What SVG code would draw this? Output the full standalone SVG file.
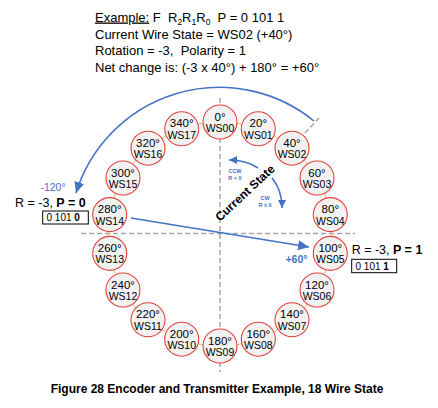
<svg xmlns="http://www.w3.org/2000/svg" width="438" height="408" viewBox="0 0 438 408">
<style>
text{font-family:"Liberation Sans",Arial,sans-serif;fill:#000}
.hdr{font-size:13px;white-space:pre}
.deg{font-size:11.5px;text-anchor:middle}
.ws{font-size:10.5px;text-anchor:middle}
.node circle{fill:#f2f2f2;stroke:#e0413c;stroke-width:1.1}
.dash{stroke:#a6a6a6;stroke-width:1.5;stroke-dasharray:5 3;fill:none}
.blue{stroke:#4472c4;fill:none}
.bt{fill:#4472c4}
.lbl{font-size:12.5px}
.small{font-size:5.5px;fill:#4472c4;font-weight:bold;text-anchor:middle}
.box{fill:#fff;stroke:#000;stroke-width:1}
.code{font-size:10px}
</style>
<defs>
<marker id="ah" markerUnits="userSpaceOnUse" markerWidth="12" markerHeight="10" refX="11" refY="5" orient="auto">
<path d="M0,0 L11,5 L0,10 Z" fill="#4472c4"/>
</marker>
<marker id="ahs" markerUnits="userSpaceOnUse" markerWidth="9" markerHeight="8" refX="8" refY="4" orient="auto">
<path d="M0,0 L8,4 L0,8 Z" fill="#4472c4"/>
</marker>
</defs>

<g id="header">
<text class="hdr" x="95" y="21.5" xml:space="preserve"><tspan text-decoration="underline">Example:</tspan> F  R<tspan font-size="8.5" dy="3">2</tspan><tspan dy="-3">R</tspan><tspan font-size="8.5" dy="3">1</tspan><tspan dy="-3">R</tspan><tspan font-size="8.5" dy="3">0</tspan><tspan dy="-3">  P = 0 101 1</tspan></text>
<text class="hdr" x="95" y="38.5">Current Wire State = WS02 (+40°)</text>
<text class="hdr" x="95" y="55" xml:space="preserve">Rotation = -3,  Polarity = 1</text>
<text class="hdr" x="95" y="71.5">Net change is: (-3 x 40°) + 180° = +60°</text>
</g>

<g id="axes">
<line class="dash" x1="220" y1="98" x2="220" y2="372"/>
<line class="dash" x1="81" y1="233.5" x2="355" y2="233.5"/>
<line class="dash" x1="305" y1="133" x2="319" y2="118"/>
</g>

<g id="ring">
<circle cx="220" cy="234" r="112" fill="none" stroke="#f4b183" stroke-width="1"/>
</g>

<g id="connectors">
<path class="blue" stroke-width="1.6" d="M314,121 A150,150 0 0 0 76,193" marker-end="url(#ah)"/>
<line class="blue" stroke-width="1.6" x1="131" y1="218" x2="309" y2="247" marker-end="url(#ah)"/>
<path class="blue" stroke-width="1.6" d="M258,168 Q246,160 229,160" marker-end="url(#ahs)"/>
<path class="blue" stroke-width="1.6" d="M272,178 Q282,190 282,208" marker-end="url(#ahs)"/>
</g>

<g id="ws00" class="node"><circle cx="220" cy="122" r="17"/><text class="deg" x="220" y="120.5">0°</text><text class="ws" x="220" y="132">WS00</text></g>
<g id="ws01" class="node"><circle cx="258.3" cy="128.8" r="17"/><text class="deg" x="258.3" y="127.3">20°</text><text class="ws" x="258.3" y="138.8">WS01</text></g>
<g id="ws02" class="node"><circle cx="292" cy="148.2" r="17"/><text class="deg" x="292" y="146.7">40°</text><text class="ws" x="292" y="158.2">WS02</text></g>
<g id="ws03" class="node"><circle cx="317" cy="178" r="17"/><text class="deg" x="317" y="176.5">60°</text><text class="ws" x="317" y="188">WS03</text></g>
<g id="ws04" class="node"><circle cx="330.3" cy="214.6" r="17"/><text class="deg" x="330.3" y="213.1">80°</text><text class="ws" x="330.3" y="224.6">WS04</text></g>
<g id="ws05" class="node"><circle cx="330.3" cy="253.4" r="17"/><text class="deg" x="330.3" y="251.9">100°</text><text class="ws" x="330.3" y="263.4">WS05</text></g>
<g id="ws06" class="node"><circle cx="317" cy="290" r="17"/><text class="deg" x="317" y="288.5">120°</text><text class="ws" x="317" y="300">WS06</text></g>
<g id="ws07" class="node"><circle cx="292" cy="319.8" r="17"/><text class="deg" x="292" y="318.3">140°</text><text class="ws" x="292" y="329.8">WS07</text></g>
<g id="ws08" class="node"><circle cx="258.3" cy="339.2" r="17"/><text class="deg" x="258.3" y="337.7">160°</text><text class="ws" x="258.3" y="349.2">WS08</text></g>
<g id="ws09" class="node"><circle cx="220" cy="346" r="17"/><text class="deg" x="220" y="344.5">180°</text><text class="ws" x="220" y="356">WS09</text></g>
<g id="ws10" class="node"><circle cx="181.7" cy="339.2" r="17"/><text class="deg" x="181.7" y="337.7">200°</text><text class="ws" x="181.7" y="349.2">WS10</text></g>
<g id="ws11" class="node"><circle cx="148" cy="319.8" r="17"/><text class="deg" x="148" y="318.3">220°</text><text class="ws" x="148" y="329.8">WS11</text></g>
<g id="ws12" class="node"><circle cx="123" cy="290" r="17"/><text class="deg" x="123" y="288.5">240°</text><text class="ws" x="123" y="300">WS12</text></g>
<g id="ws13" class="node"><circle cx="109.7" cy="253.4" r="17"/><text class="deg" x="109.7" y="251.9">260°</text><text class="ws" x="109.7" y="263.4">WS13</text></g>
<g id="ws14" class="node"><circle cx="109.7" cy="214.6" r="17"/><text class="deg" x="109.7" y="213.1">280°</text><text class="ws" x="109.7" y="224.6">WS14</text></g>
<g id="ws15" class="node"><circle cx="123" cy="178" r="17"/><text class="deg" x="123" y="176.5">300°</text><text class="ws" x="123" y="188">WS15</text></g>
<g id="ws16" class="node"><circle cx="148" cy="148.2" r="17"/><text class="deg" x="148" y="146.7">320°</text><text class="ws" x="148" y="158.2">WS16</text></g>
<g id="ws17" class="node"><circle cx="181.7" cy="128.8" r="17"/><text class="deg" x="181.7" y="127.3">340°</text><text class="ws" x="181.7" y="138.8">WS17</text></g>

<g id="current-state">
<text x="245" y="197" font-size="12" font-weight="bold" text-anchor="middle" transform="rotate(-43 245 193)">Current State</text>
<text class="small" x="235" y="172.5">CCW</text>
<text class="small" x="235" y="179.5">R &lt; 0</text>
<text class="small" x="265" y="199.5">CW</text>
<text class="small" x="265" y="206.5">R ≥ 0</text>
</g>

<g id="left-label">
<text x="53" y="190.5" font-size="10.5" class="bt" text-anchor="middle">-120°</text>
<text class="lbl" x="15" y="206.5">R = -3, <tspan font-weight="bold">P = 0</tspan></text>
<rect class="box" x="42.7" y="211" width="45.6" height="13"/>
<text class="code" x="46.5" y="221">0 101 <tspan font-weight="bold">0</tspan></text>
</g>

<g id="right-label">
<text x="296.5" y="262.5" font-size="10.5" font-weight="bold" class="bt" text-anchor="middle">+60°</text>
<text class="lbl" x="351.7" y="254.3">R = -3, <tspan font-weight="bold">P = 1</tspan></text>
<rect class="box" x="351.7" y="259.3" width="45" height="13.4"/>
<text class="code" x="355.5" y="269.5">0 101 <tspan font-weight="bold">1</tspan></text>
</g>

<text x="217" y="393" font-size="12" font-weight="bold" text-anchor="middle">Figure 28 Encoder and Transmitter Example, 18 Wire State</text>
</svg>
